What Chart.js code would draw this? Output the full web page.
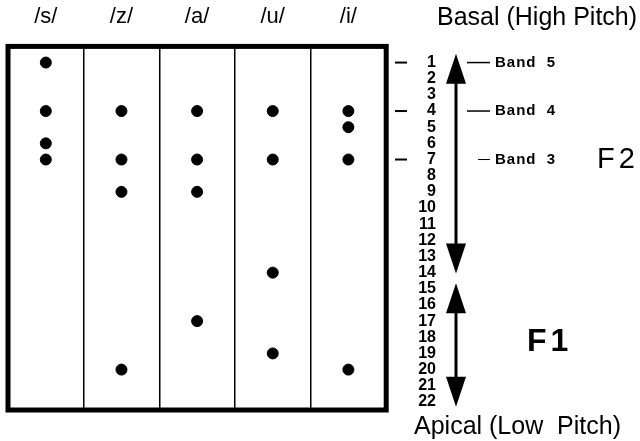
<!DOCTYPE html>
<html>
<head>
<meta charset="utf-8">
<script src="https://cdn.jsdelivr.net/npm/chart.js@4"></script>
<style>
  html, body { margin: 0; padding: 0; background: #fff; }
  #wrap { width: 640px; height: 441px; position: relative; }
</style>
</head>
<body>
<div id="wrap"><canvas id="chart"></canvas></div>
<script>
// phonemes along the top, electrode numbers stimulated for each one
const phonemes = ["/s/", "/z/", "/a/", "/u/", "/i/"];
const sElectrodes = [1, 4, 6, 7];
const zElectrodes = [4, 7, 9, 20];
const aElectrodes = [4, 7, 9, 17];
const uElectrodes = [4, 7, 14, 19];
const iElectrodes = [4, 5, 7, 20];

const electrodeTicks = [1, 2, 3, 4, 5, 6, 7, 8, 9, 10, 11, 12, 13, 14, 15, 16, 17, 18, 19, 20, 21, 22];
const markedElectrodes = [1, 4, 7];
const bandLabels = ["Band 5", "Band 4", "Band 3"];
const bandElectrodes = [1, 4, 7];

const FONT = "'Liberation Sans', Arial, Helvetica, sans-serif";

function toPoints(label, list) {
  return list.map((e) => ({ x: label, y: e }));
}

const columns = [sElectrodes, zElectrodes, aElectrodes, uElectrodes, iElectrodes];

function drawArrow(ctx, x, yTop, yBottom) {
  const hw = 10, hh = 30;
  ctx.beginPath();
  ctx.moveTo(x, yTop + hh - 2);
  ctx.lineTo(x, yBottom - hh + 2);
  ctx.lineWidth = 3;
  ctx.stroke();
  ctx.beginPath();
  ctx.moveTo(x, yTop);
  ctx.lineTo(x - hw, yTop + hh);
  ctx.lineTo(x + hw, yTop + hh);
  ctx.closePath();
  ctx.fill();
  ctx.beginPath();
  ctx.moveTo(x, yBottom);
  ctx.lineTo(x - hw, yBottom - hh);
  ctx.lineTo(x + hw, yBottom - hh);
  ctx.closePath();
  ctx.fill();
}

const annotations = {
  id: "annotations",
  afterDraw(chart) {
    const { ctx, chartArea } = chart;
    const y = chart.scales.y;
    ctx.save();
    ctx.strokeStyle = "#000";
    ctx.fillStyle = "#000";

    // heavy frame
    ctx.lineWidth = 5;
    ctx.strokeRect(chartArea.left, chartArea.top, chartArea.right - chartArea.left, chartArea.bottom - chartArea.top);

    // little dashes beside electrodes 1, 4, 7
    ctx.lineWidth = 2;
    markedElectrodes.forEach((e) => {
      const py = y.getPixelForValue(e);
      ctx.beginPath();
      ctx.moveTo(395, py);
      ctx.lineTo(407, py);
      ctx.stroke();
    });

    // F2 and F1 ranges
    drawArrow(ctx, 456, y.getPixelForValue(0.45), y.getPixelForValue(14.05));
    drawArrow(ctx, 456, y.getPixelForValue(14.65), y.getPixelForValue(22.3));

    // band labels
    ctx.font = "bold 15px " + FONT;
    ctx.textBaseline = "middle";
    ctx.textAlign = "left";
    ctx.letterSpacing = "1px";
    bandLabels.forEach((lab, i) => {
      const py = y.getPixelForValue(bandElectrodes[i]);
      ctx.lineWidth = i === 2 ? 1 : 1.5;
      ctx.beginPath();
      ctx.moveTo(i === 2 ? 478 : 467, py);
      ctx.lineTo(490, py);
      ctx.stroke();
      ctx.fillText(lab.replace(" ", "  "), 495, py);
    });
    ctx.letterSpacing = "0px";

    ctx.font = "25px " + FONT;
    ctx.fillText("Basal (High Pitch)", 437, 18);
    ctx.fillText("Apical (Low  Pitch)", 414, 427);

    ctx.letterSpacing = "4px";
    ctx.font = "29px " + FONT;
    ctx.fillText("F2", 597, y.getPixelForValue(7));
    ctx.font = "bold 32px " + FONT;
    ctx.fillText("F1", 527, y.getPixelForValue(18.3));
    ctx.restore();
  },
};

new Chart(document.getElementById("chart"), {
  type: "scatter",
  data: {
    labels: phonemes,
    datasets: phonemes.map((p, i) => ({
      label: p,
      data: toPoints(p, columns[i]),
      backgroundColor: "#000",
      borderColor: "#000",
      pointRadius: 5.5,
      pointHoverRadius: 5.5,
    })),
  },
  options: {
    responsive: true,
    maintainAspectRatio: false,
    animation: false,
    events: [],
    layout: { padding: { left: 8, right: 204, top: -12, bottom: 31 } },
    plugins: { legend: { display: false }, tooltip: { enabled: false } },
    scales: {
      x: {
        type: "category",
        position: "top",
        offset: true,
        grid: { offset: true, color: "#000", lineWidth: 1.5, drawTicks: false },
        border: { display: false },
        ticks: { color: "#000", font: { family: FONT, size: 22 }, padding: 16 },
      },
      y: {
        type: "linear",
        position: "right",
        reverse: true,
        min: 0,
        max: 22.5,
        afterBuildTicks: (scale) => {
          scale.ticks = electrodeTicks.map((v) => ({ value: v }));
        },
        grid: { display: false },
        border: { display: false },
        ticks: {
          autoSkip: false,
          color: "#000",
          crossAlign: "far",
          padding: 12,
          font: { family: FONT, size: 16, weight: "bold", lineHeight: 1 },
        },
      },
    },
  },
  plugins: [annotations],
});
</script>
</body>
</html>
